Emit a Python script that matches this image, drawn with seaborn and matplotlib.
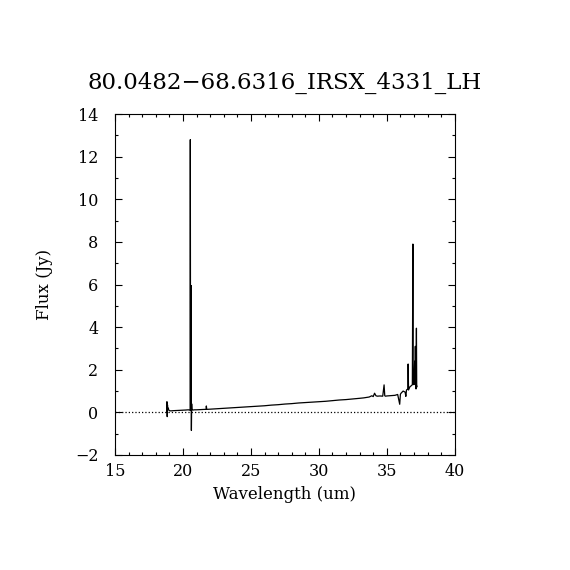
import numpy as np
import pandas as pd
import matplotlib
matplotlib.use("Agg")
import matplotlib.pyplot as plt
import seaborn as sns

# Spectrum (wavelength in um, flux in Jy)
wavelength = [18.80, 18.82, 18.84, 18.86, 18.88, 18.92, 18.96, 19.00, 19.10, 19.30,
              19.60, 19.90, 20.20, 20.40, 20.50, 20.53, 20.54, 20.56, 20.58, 20.60,
              20.61, 20.62, 20.64, 20.66, 20.70, 20.75, 20.85, 21.00, 21.30, 21.60,
              21.70, 21.72, 21.75, 22.00, 22.50, 23.00, 23.50, 24.00, 24.50, 25.00,
              25.50, 26.00, 26.50, 27.00, 27.50, 28.00, 28.50, 29.00, 29.50, 30.00,
              30.50, 31.00, 31.50, 32.00, 32.50, 33.00, 33.30, 33.50, 33.70, 33.90,
              34.00, 34.10, 34.20, 34.30, 34.50, 34.70, 34.80, 34.85, 34.90, 35.00,
              35.20, 35.40, 35.60, 35.80, 35.95, 36.00, 36.05, 36.20, 36.35, 36.40,
              36.45, 36.55, 36.57, 36.60, 36.70, 36.80, 36.88, 36.92, 36.94, 36.97,
              37.00, 37.05, 37.08, 37.10, 37.12, 37.15, 37.18, 37.20, 37.23]
flux = [0.00, 0.50, -0.20, 0.35, 0.15, 0.20, 0.10, 0.08, 0.07, 0.08,
        0.09, 0.10, 0.11, 0.12, 0.10, 0.12, 12.80, 0.15, 0.10, 5.95,
        0.20, -0.85, 0.40, 0.12, 0.13, 0.11, 0.12, 0.12, 0.13, 0.14,
        0.14, 0.30, 0.14, 0.15, 0.17, 0.19, 0.21, 0.23, 0.25, 0.27,
        0.29, 0.31, 0.34, 0.36, 0.39, 0.41, 0.44, 0.46, 0.48, 0.50,
        0.52, 0.55, 0.58, 0.60, 0.63, 0.66, 0.68, 0.70, 0.72, 0.78,
        0.74, 0.90, 0.78, 0.76, 0.77, 0.76, 1.29, 0.78, 0.76, 0.77,
        0.78, 0.79, 0.80, 0.84, 0.38, 0.85, 0.90, 1.00, 0.95, 0.75,
        1.05, 1.10, 2.27, 1.05, 1.20, 1.25, 1.30, 7.90, 1.30, 1.40,
        1.35, 2.40, 1.30, 3.10, 1.40, 1.10, 3.95, 1.30, 1.20]

df = pd.DataFrame({"Wavelength": wavelength, "Flux": flux})

sns.set_style("ticks")
plt.rcParams["font.family"] = ["DejaVu Serif"]
plt.rcParams["text.color"] = "black"
plt.rcParams["axes.labelcolor"] = "black"
plt.rcParams["xtick.color"] = "black"
plt.rcParams["ytick.color"] = "black"

fig = plt.figure(figsize=(5.7, 5.7), dpi=100)
ax = fig.add_axes([0.2018, 0.2018, 0.596, 0.598])

sns.lineplot(data=df, x="Wavelength", y="Flux", ax=ax, color="black",
             linewidth=0.9, sort=False, estimator=None)
ax.axhline(0, color="black", linestyle=":", linewidth=0.9)

ax.set_xlim(15, 40)
ax.set_ylim(-2, 14)
ax.set_xticks(np.arange(15, 41, 5))
ax.set_yticks(np.arange(-2, 15, 2))
ax.set_xticks(np.arange(15, 41, 1), minor=True)
ax.set_yticks(np.arange(-2, 15, 1), minor=True)
ax.tick_params(which="both", direction="in", top=True, right=True,
               color="black", labelcolor="black", width=0.8, labelsize=11.5)
ax.tick_params(which="major", length=5)
ax.tick_params(axis="y", which="major", pad=12)
ax.tick_params(axis="x", which="major", pad=6)
ax.tick_params(which="minor", length=2.5)
for s in ax.spines.values():
    s.set_linewidth(0.8)
    s.set_color("black")

ax.set_xlabel("Wavelength (um)", fontsize=12, labelpad=4)
ax.set_ylabel("Flux (Jy)", fontsize=12, labelpad=16)
ax.set_title("80.0482\u221268.6316_IRSX_4331_LH", fontsize=16.5, pad=18)

fig.savefig("out.png", dpi=100, facecolor="white")
